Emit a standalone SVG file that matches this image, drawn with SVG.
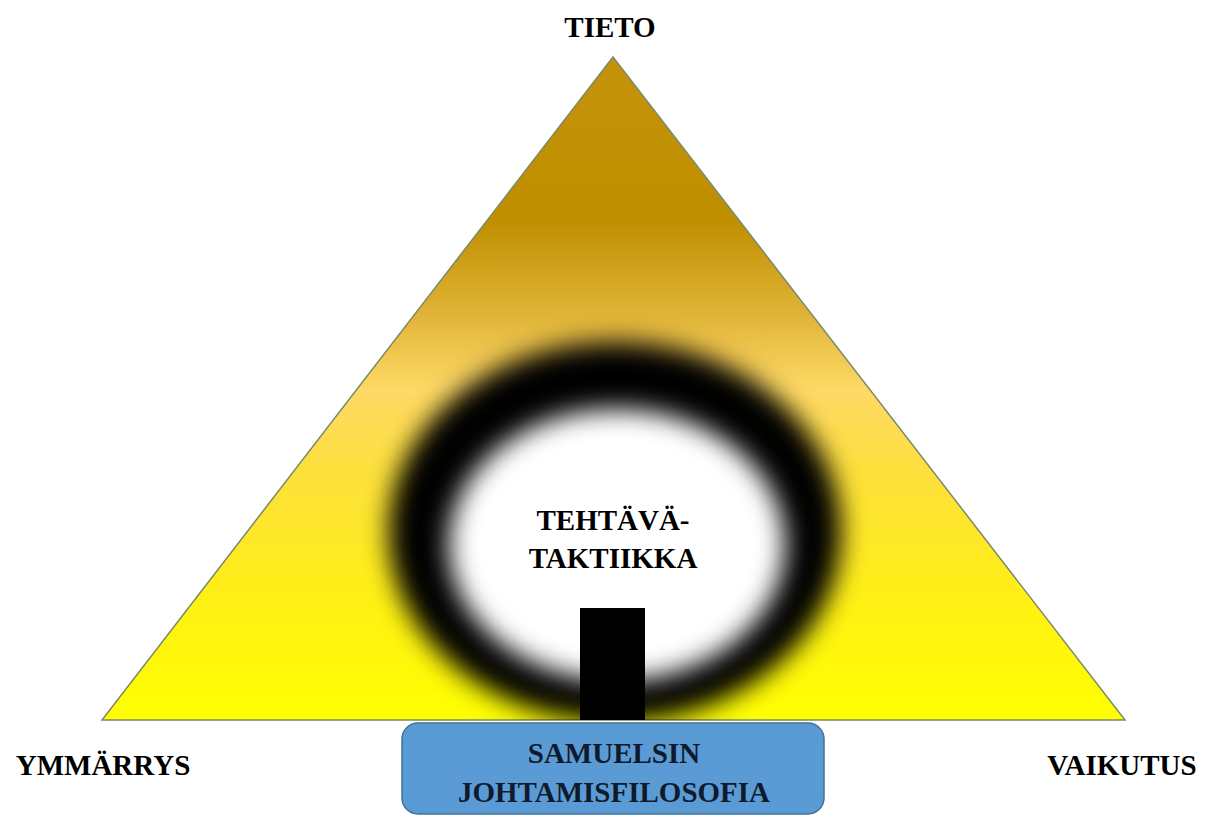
<svg xmlns="http://www.w3.org/2000/svg" width="1205" height="816" viewBox="0 0 1205 816">
<style>
text{font-family:"Liberation Serif",Tinos,"Times New Roman",Times,"Nimbus Roman","Nimbus Roman No9 L",FreeSerif,"DejaVu Serif","Noto Serif",Georgia,serif;font-weight:bold;font-size:29px;text-anchor:middle}
.lbl{fill:#000}
.box{fill:#0f1a2c}
</style>
<defs>
<linearGradient id="tri" x1="0" y1="57" x2="0" y2="720" gradientUnits="userSpaceOnUse">
<stop offset="0" stop-color="#c4930a"/>
<stop offset="0.246" stop-color="#bf8f00"/>
<stop offset="0.397" stop-color="#e2b63a"/>
<stop offset="0.502" stop-color="#ffd966"/>
<stop offset="0.623" stop-color="#fde03c"/>
<stop offset="0.82" stop-color="#fff014"/>
<stop offset="1" stop-color="#ffff00"/>
</linearGradient>
<filter id="blur" x="-20%" y="-20%" width="140%" height="140%"><feGaussianBlur stdDeviation="13"/></filter>
<clipPath id="triClip"><polygon points="613,57 102,720 1125,720"/></clipPath>
</defs>
<g id="triangle">
<polygon points="613,57 102,720 1125,720" fill="url(#tri)" stroke="#7a8a6a" stroke-width="1.5"/>
</g>
<g id="ring" clip-path="url(#triClip)">
<ellipse cx="615" cy="532" rx="226" ry="190" fill="#000" filter="url(#blur)"/>
<ellipse cx="617" cy="545" rx="168" ry="136" fill="#fff" filter="url(#blur)"/>
<text class="lbl" x="613" y="530">TEHTÄVÄ-</text>
<text class="lbl" x="613" y="568">TAKTIIKKA</text>
</g>
<g id="connectors">
<rect x="580" y="608" width="65" height="112" fill="#000"/>
</g>
<g id="tieto"><text class="lbl" x="610" y="37">TIETO</text></g>
<g id="ymmarrys"><text class="lbl" x="103" y="775">YMMÄRRYS</text></g>
<g id="vaikutus"><text class="lbl" x="1122" y="775">VAIKUTUS</text></g>
<g id="samuelsin">
<rect x="402" y="723" width="422" height="91" rx="16" ry="16" fill="#5b9bd5" stroke="#41719c" stroke-width="1.5"/>
<text class="box" x="614" y="763">SAMUELSIN</text>
<text class="box" x="614" y="802">JOHTAMISFILOSOFIA</text>
</g>
</svg>
